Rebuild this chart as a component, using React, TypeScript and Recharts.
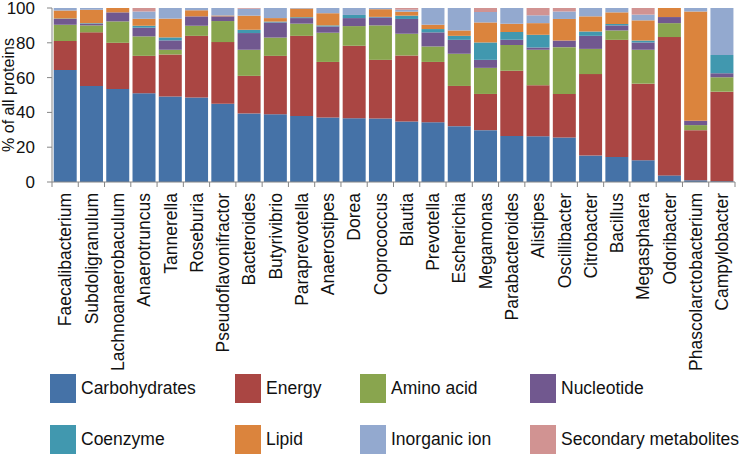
import React from "react";
import { BarChart, Bar, XAxis, YAxis } from "recharts";

const genera = [
  "Faecalibacterium", "Subdoligranulum", "Lachnoanaerobaculum", "Anaerotruncus",
  "Tannerella", "Roseburia", "Pseudoflavonifractor", "Bacteroides", "Butyrivibrio",
  "Paraprevotella", "Anaerostipes", "Dorea", "Coprococcus", "Blautia", "Prevotella",
  "Escherichia", "Megamonas", "Parabacteroides", "Alistipes", "Oscillibacter",
  "Citrobacter", "Bacillus", "Megasphaera", "Odoribacter", "Phascolarctobacterium",
  "Campylobacter",
];

const carbohydrates = [64.4, 55.2, 53.5, 51, 49.2, 48.5, 45, 39.4, 39, 38, 37, 36.7, 36.5, 34.8, 34.4, 32.1, 29.8, 26.5, 26.3, 25.6, 15.2, 14.4, 12.5, 3.8, 1, 0.5];
const energy = [16.6, 30.8, 26.5, 21.5, 24.1, 35.5, 35.4, 21.6, 33.5, 46, 32, 41.6, 33.7, 37.9, 34.6, 23.1, 20.8, 37.5, 29.3, 25, 46.8, 67.3, 44, 79.5, 28.8, 51.4];
const aminoAcid = [9.4, 4, 12.3, 11.2, 2.7, 5.8, 12.1, 15, 10.5, 7, 16.8, 11.3, 19.8, 12.5, 8.9, 18.5, 15, 14.8, 20.4, 26.9, 14.5, 5.4, 19.5, 8, 2.9, 8.3];
const nucleotide = [3.3, 1, 5.2, 5, 5.4, 5.4, 2.7, 9.6, 8.7, 3.2, 3.6, 4.6, 4.6, 8.5, 8.1, 8, 4.6, 2.9, 1.3, 3.8, 7.5, 2.9, 4.2, 3.5, 2.5, 2.3];
const coenzyme = [0.3, 0.3, 0, 1.1, 1.7, 0, 0, 1.9, 0.5, 0.5, 0.6, 1.8, 0.3, 1.9, 1.9, 2.3, 10, 4.5, 7.3, 0, 2.5, 0.8, 1.1, 0, 0, 10.5];
const lipid = [4.5, 7.7, 2.5, 4, 10.8, 3.5, 0.5, 8.1, 2, 5, 7, 0, 4.4, 2.3, 2.5, 3.1, 11.5, 4.8, 6.7, 12.4, 8.7, 6.7, 11.6, 5.2, 62.8, 0];
const inorganicIon = [1.5, 1, 0, 4.2, 6.1, 1.3, 4.3, 4, 5.8, 0.3, 3, 4, 0.7, 1.1, 9.6, 12.9, 6, 9, 4.5, 4.3, 4.8, 2.5, 3.3, 0, 2, 27];
const secondary = [0, 0, 0, 2, 0, 0, 0, 0.4, 0, 0, 0, 0, 0, 1, 0, 0, 2.3, 0, 4.2, 2, 0, 0, 3.8, 0, 0, 0];

const yTicks = [0, 20, 40, 60, 80, 100];

const series = [
  { key: "carb", name: "Carbohydrates", values: carbohydrates, color: "#4572A7" },
  { key: "energy", name: "Energy", values: energy, color: "#AA4643" },
  { key: "amino", name: "Amino acid", values: aminoAcid, color: "#89A54E" },
  { key: "nuc", name: "Nucleotide", values: nucleotide, color: "#71588F" },
  { key: "coenz", name: "Coenzyme", values: coenzyme, color: "#4198AF" },
  { key: "lipid", name: "Lipid", values: lipid, color: "#DB843D" },
  { key: "inorg", name: "Inorganic ion", values: inorganicIon, color: "#93A9CF" },
  { key: "sec", name: "Secondary metabolites", values: secondary, color: "#D19392" },
];

const data = genera.map((g, i) => {
  const row: any = { genus: g };
  series.forEach((s) => (row[s.key] = s.values[i]));
  return row;
});

const FONT = "'Liberation Sans', Arial, sans-serif";
const AXIS = "#868686";
const W = 740;
const H = 457;
const LEFT = 52;
const RIGHT = 5;
const BAND = (W - LEFT - RIGHT) / genera.length;

const GenusTick = ({ x, y, payload, index }: any) => (
  <g>
    <line x1={x - BAND / 2} y1={y} x2={x - BAND / 2} y2={y + 5} stroke={AXIS} />
    {index === genera.length - 1 && (
      <line x1={x + BAND / 2} y1={y} x2={x + BAND / 2} y2={y + 5} stroke={AXIS} />
    )}
    <text
      x={x}
      y={y + 11}
      dy="0.36em"
      transform={`rotate(-90, ${x}, ${y + 11})`}
      textAnchor="end"
      fontSize={17.5}
      fontFamily={FONT}
      fill="#111"
    >
      {payload.value}
    </text>
  </g>
);

const legendCols = [50, 235, 360, 530];
const legendRows = [374, 425];

function ProteinLegend() {
  return (
    <>
      {series.map((s, i) => {
        const left = legendCols[i % 4];
        const top = legendRows[Math.floor(i / 4)];
        return (
          <div key={s.key} style={{ position: "absolute", left, top, display: "flex", alignItems: "center" }}>
            <div style={{ width: 26, height: 29, background: s.color }} />
            <span style={{ marginLeft: 5, fontSize: 17.5, fontFamily: FONT, color: "#111", whiteSpace: "nowrap" }}>
              {s.name}
            </span>
          </div>
        );
      })}
    </>
  );
}

export default function App() {
  return (
    <div style={{ position: "absolute", left: 0, top: 0, width: W, height: H, background: "#fff" }}>
      <BarChart
        width={W}
        height={H}
        data={data}
        margin={{ top: 8, right: RIGHT, left: 0, bottom: 0 }}
        barCategoryGap="6.5%"
      >
        <XAxis
          dataKey="genus"
          interval={0}
          height={H - 182}
          tickLine={false}
          tickSize={0}
          tickMargin={0}
          axisLine={{ stroke: AXIS }}
          tick={<GenusTick />}
        />
        <YAxis
          width={LEFT}
          domain={[0, 100]}
          ticks={yTicks}
          interval={0}
          tickSize={5}
          tickMargin={12}
          axisLine={{ stroke: AXIS }}
          tickLine={{ stroke: AXIS }}
          tick={{ fontSize: 17, fill: "#111", fontFamily: FONT }}
          label={{
            value: "% of all proteins",
            angle: -90,
            position: "insideLeft",
            offset: 8,
            style: { textAnchor: "middle", fontSize: 16, fill: "#111", fontFamily: FONT },
          }}
        />
        {series.map((s) => (
          <Bar key={s.key} dataKey={s.key} name={s.name} stackId="a" fill={s.color} isAnimationActive={false} />
        ))}
      </BarChart>
      <ProteinLegend />
    </div>
  );
}
